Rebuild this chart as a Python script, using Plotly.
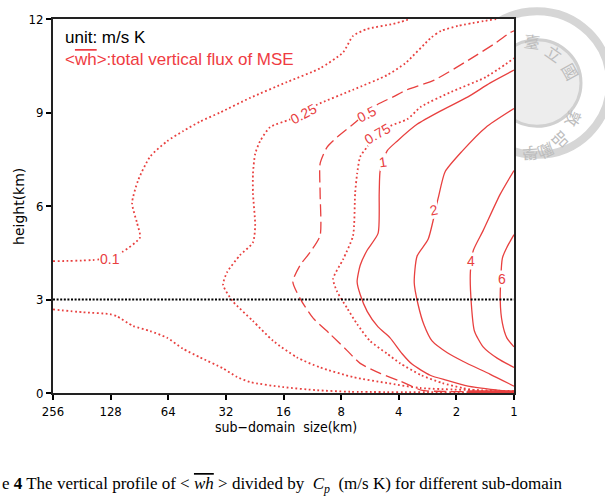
import math
import plotly.graph_objects as go

# ---------------- data ----------------
# x: sub-domain size (km), y: height (km) for each contour line
c010_upper_size = [256, 145.4, 111.6, 89.9, 93.2, 98.9, 92.0, 79.7, 64.9, 53.6, 43.6, 34.3, 23.9, 15.3, 10.3, 7.81, 6.93, 5.85, 4.28, 3.48]
c010_upper_h = [4.23, 4.29, 4.52, 4.99, 5.46, 6.09, 6.82, 7.58, 8.08, 8.40, 8.71, 9.00, 9.47, 9.98, 10.42, 10.93, 11.46, 11.68, 11.84, 12.0]

c010_lower_size = [256, 178.4, 128.9, 118.5, 97.8, 79.7, 64.9, 53.6, 43.6, 33.1, 27.9, 23.9, 16.1, 10.7, 7.18, 1.0]
c010_lower_h = [2.68, 2.59, 2.53, 2.46, 2.15, 1.99, 1.77, 1.42, 1.14, 0.79, 0.51, 0.35, 0.19, 0.09, 0.04, 0.03]

c025_size = [1.0, 3.09, 4.60, 6.93, 10.3, 13.6, 18.1, 23.1, 29.4, 33.1, 31.5, 27.0, 23.1, 22.5, 23.1, 23.1, 22.5, 21.2, 18.8, 14.8, 10.7, 6.93, 4.60, 3.70, 2.71, 2.40, 1.96, 1.24]
c025_h = [0.06, 0.16, 0.32, 0.51, 0.82, 1.14, 1.67, 2.31, 2.94, 3.47, 3.88, 4.42, 4.83, 5.37, 6.41, 7.04, 7.67, 8.08, 8.53, 8.78, 9.25, 9.73, 10.20, 10.58, 11.40, 11.62, 11.78, 12.0]

c050_size = [1.0, 2.74, 3.05, 3.93, 5.00, 6.36, 7.44, 9.13, 11.2, 13.1, 14.3, 13.1, 11.6, 10.3, 10.3, 10.3, 9.47, 8.39, 6.93, 5.19, 4.28, 3.62, 2.61, 1.74, 1.24, 1.05, 1.0]
c050_h = [0.03, 0.06, 0.09, 0.38, 0.63, 0.95, 1.36, 1.89, 2.40, 3.03, 3.57, 4.10, 4.52, 5.05, 6.41, 7.36, 7.89, 8.21, 8.62, 9.25, 9.50, 9.73, 10.04, 10.67, 11.24, 11.56, 11.62]

c075_size = [1.0, 1.45, 1.86, 2.37, 3.05, 3.93, 4.60, 5.65, 6.60, 7.44, 8.39, 8.81, 7.81, 6.93, 6.76, 6.60, 6.36, 5.85, 4.44, 3.62, 3.05, 2.13, 1.40, 1.0]
c075_h = [0.03, 0.06, 0.16, 0.32, 0.57, 0.95, 1.26, 1.67, 2.21, 2.72, 3.25, 3.66, 4.29, 5.05, 6.41, 7.04, 7.58, 7.89, 8.56, 8.78, 9.19, 9.66, 10.14, 10.74]

c1_size = [1.0, 1.22, 1.74, 2.26, 2.74, 3.40, 3.84, 4.44, 5.13, 5.85, 6.36, 6.60, 6.36, 5.85, 5.13, 5.06, 5.00, 4.60, 4.08, 3.21, 2.40, 1.74, 1.33, 1.0]
c1_h = [0.03, 0.09, 0.22, 0.41, 0.57, 0.92, 1.26, 1.77, 2.12, 2.62, 3.16, 3.57, 4.10, 4.58, 5.12, 6.41, 7.14, 7.77, 8.08, 8.62, 9.06, 9.50, 9.95, 10.36]

c2_size = [1.0, 1.33, 1.84, 2.23, 2.68, 2.95, 3.17, 3.32, 3.21, 2.81, 2.49, 2.29, 1.86, 1.40, 1.0]
c2_h = [0.22, 0.60, 1.01, 1.29, 1.67, 2.18, 2.84, 3.54, 4.39, 4.93, 6.25, 7.10, 7.77, 8.53, 9.13]

c4_size = [1.0, 1.22, 1.45, 1.61, 1.67, 1.69, 1.63, 1.45, 1.18, 1.0]
c4_h = [0.82, 1.11, 1.48, 1.99, 2.84, 3.88, 4.58, 5.21, 6.38, 7.14]

c6_size = [1.0, 1.09, 1.15, 1.18, 1.15, 1.09, 1.0]
c6_h = [1.48, 1.77, 2.24, 2.97, 4.33, 4.67, 5.08]

near_surface_size = [1.75, 1.0]
near_surface_h = [0.04, 0.04]

ref_height = 3
x_ticks = [256, 128, 64, 32, 16, 8, 4, 2, 1]
y_ticks = [0, 3, 6, 9, 12]

# contour labels: text, size (km), height (km), angle
label_text = ["0.1", "0.25", "0.5", "0.75", "1", "2", "4", "6"]
label_size = [129, 12.6, 5.85, 5.19, 4.83, 2.61, 1.67, 1.15]
label_h = [4.29, 8.94, 8.94, 8.30, 7.42, 5.87, 4.23, 3.66]
label_angle = [0, -28, -27, -30, -8, -12, 0, 0]

# ---------------- figure ----------------
RED = "#e8403f"
DOT = "1.8px,2.6px"
DASH = "12px,5px"

W, H = 605, 501
L, R, T, B = 53, 514, 13, 393
pw, ph = R - L, B - T

def px(x):
    return (x - L) / pw

def py(y):
    return (B - y) / ph

fig = go.Figure()

lines = [
    (c010_upper_size, c010_upper_h, DOT, 1.8),
    (c010_lower_size, c010_lower_h, DOT, 1.8),
    (c025_size, c025_h, DOT, 1.8),
    (c050_size, c050_h, DASH, 1.3),
    (c075_size, c075_h, DOT, 1.8),
    (c1_size, c1_h, "solid", 1.3),
    (c2_size, c2_h, "solid", 1.3),
    (c4_size, c4_h, "solid", 1.3),
    (c6_size, c6_h, "solid", 1.3),
    (near_surface_size, near_surface_h, "solid", 3),
]
for xs, ys, dash, w in lines:
    fig.add_trace(go.Scatter(x=xs, y=ys, mode="lines",
                             line=dict(color=RED, width=w, dash=dash, shape="spline", smoothing=0.6),
                             hoverinfo="skip", showlegend=False))

fig.add_trace(go.Scatter(x=[x_ticks[0], x_ticks[-1]], y=[ref_height, ref_height], mode="lines",
                         line=dict(color="black", width=2, dash="2px,1.6px"),
                         hoverinfo="skip", showlegend=False))

annotations = []
for t, s, h, a in zip(label_text, label_size, label_h, label_angle):
    annotations.append(dict(x=math.log10(s), y=h, xref="x", yref="y", text=t,
                            showarrow=False, textangle=a, bgcolor="white",
                            font=dict(family="Liberation Sans, Arial", size=14, color=RED),
                            borderpad=0))

annotations += [
    dict(x=px(63), y=py(32), xref="paper", yref="paper", xanchor="left", yanchor="middle",
         text="unit: m/s K", showarrow=False,
         font=dict(family="Liberation Sans, Arial", size=17, color="black")),
    dict(x=px(63), y=py(54), xref="paper", yref="paper", xanchor="left", yanchor="middle",
         text='&lt;<span style="text-decoration:overline">wh</span>&gt;:total vertical flux of MSE',
         showarrow=False,
         font=dict(family="Liberation Sans, Arial", size=17, color="#ef3b42")),
    dict(x=px(286), y=py(428), xref="paper", yref="paper", xanchor="center", yanchor="middle",
         text="sub−domain  size(km)", showarrow=False,
         font=dict(family="DejaVu Sans Condensed, Liberation Sans Narrow, Liberation Sans", size=14, color="black")),
    dict(x=px(19), y=py(204), xref="paper", yref="paper", xanchor="center", yanchor="middle",
         text="height(km)", showarrow=False, textangle=-90,
         font=dict(family="DejaVu Sans, Liberation Sans", size=14, color="black")),
    dict(x=px(0), y=py(486), xref="paper", yref="paper", xanchor="left", yanchor="middle",
         text='e <b>4</b> The vertical profile of &lt; <i><span style="text-decoration:overline">wh</span></i> &gt; divided by  <i>C<sub>p</sub></i>  (m/s K) for different sub-domain',
         showarrow=False,
         font=dict(family="Liberation Serif, Times New Roman", size=17, color="black")),
]

# watermark seal (top right, behind the plot)
cx, cy = 537, 78
seal_chars = ["臺", "立", "國", "敦", "品", "勵", "學"]
seal_ang = [-83, -55, -29, 22, 45, 65, 86]
for ch, ang in zip(seal_chars, seal_ang):
    r = 58
    x = cx + r * math.cos(math.radians(ang))
    y = cy + r * math.sin(math.radians(ang))
    if x > R + 6:
        annotations.append(dict(x=px(x), y=py(y), xref="paper", yref="paper", text=ch,
                                showarrow=False, textangle=ang + 90,
                                font=dict(family="Noto Sans CJK TC", size=16, color="#bdbdbd")))

shapes = []
def circ(r, width, color, fill="rgba(0,0,0,0)"):
    return dict(type="circle", xref="paper", yref="paper", layer="below",
                x0=px(cx - r), x1=px(cx + r), y0=py(cy + r), y1=py(cy - r),
                line=dict(color=color, width=width), fillcolor=fill)
shapes.append(circ(73, 8, "#d6d6d6"))
shapes.append(circ(44, 3, "#d0d0d0", "#ededed"))
shapes.append(dict(type="rect", xref="paper", yref="paper", layer="below",
                   x0=0, x1=1, y0=0, y1=1, line=dict(width=0), fillcolor="white"))

axis_font = dict(family="DejaVu Sans Condensed, Liberation Sans Narrow, Liberation Sans", size=13, color="black")
fig.update_layout(
    width=W, height=H,
    margin=dict(l=L, r=W - R, t=T, b=H - B, pad=0),
    paper_bgcolor="white", plot_bgcolor="rgba(0,0,0,0)",
    showlegend=False,
    xaxis=dict(type="log", range=[math.log10(256), 0], tickvals=x_ticks,
               ticktext=[str(v) for v in x_ticks], ticks="outside", ticklen=5,
               tickwidth=1.5, tickcolor="black", showgrid=False, zeroline=False,
               showline=True, linecolor="#222", linewidth=2, mirror=True,
               tickfont=axis_font),
    yaxis=dict(range=[0, 12], tickvals=y_ticks, ticks="outside", ticklen=5,
               tickwidth=1.5, tickcolor="black", showgrid=False, zeroline=False,
               showline=True, linecolor="#222", linewidth=2, mirror=True,
               tickfont=axis_font),
    annotations=annotations,
    shapes=shapes,
)

fig.write_html("out.html")
